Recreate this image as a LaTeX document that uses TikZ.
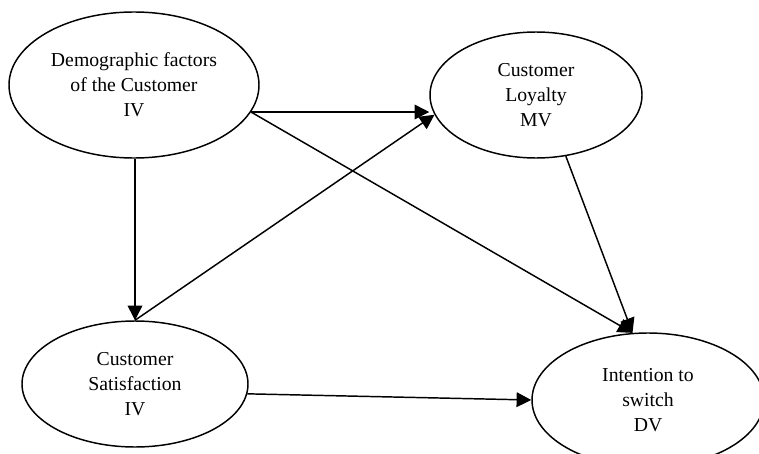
\documentclass[tikz,border=0pt]{standalone}
\usepackage{fontspec}
\setmainfont{Liberation Serif}
\usetikzlibrary{shapes.geometric,arrows.meta}
\tikzset{
  oval/.style={draw, ellipse, line width=1.1pt, inner sep=0pt, align=center,
    font=\fontsize{14.8}{18.8}\selectfont},
  link/.style={line width=1.1pt, -{Triangle[length=11pt,width=11pt]}}
}
\begin{document}
\begin{tikzpicture}[x=0.75pt,y=-0.75pt]
\clip (0,0) rectangle (759,453);
\fill[white] (0,0) rectangle (759,453);
\node[oval, minimum width=250*0.75pt, minimum height=146*0.75pt] (dem) at (134,85)
  {Demographic factors\\of the Customer\\IV};
\node[oval, minimum width=212*0.75pt, minimum height=126*0.75pt] (loy) at (536,95)
  {Customer\\Loyalty\\MV};
\node[oval, minimum width=226*0.75pt, minimum height=126*0.75pt] (sat) at (135,384)
  {Customer\\Satisfaction\\IV};
\node[oval, minimum width=232*0.75pt, minimum height=134*0.75pt] (int) at (648,400)
  {Intention to\\switch\\DV};
\coordinate (d1) at (dem.-13);
\draw[link] (d1) -- (d1 -| loy.west);
\draw[link] (d1) -- (int.103);
\draw[link] (dem.south -| sat.north) -- (sat.north);
\draw[link] (sat.north) -- (loy.191);
\draw[link] (loy.-64) -- (int.103);
\draw[link] (sat.-5) -- (int.west);
\end{tikzpicture}
\end{document}
